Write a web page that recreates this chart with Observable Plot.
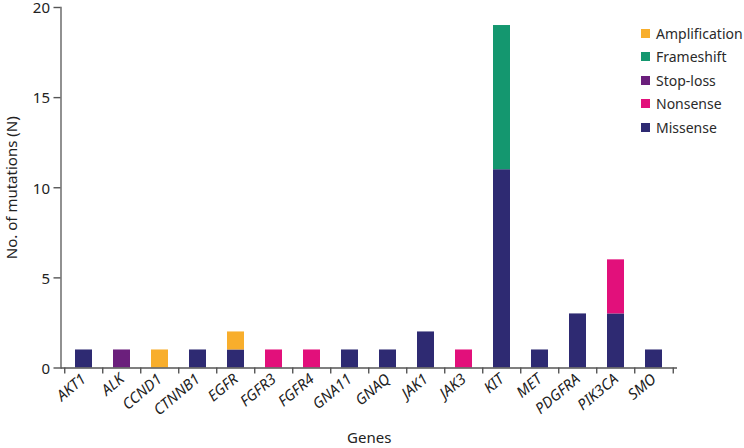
<!DOCTYPE html>
<html>
<head>
<meta charset="utf-8">
<script src="https://cdn.jsdelivr.net/npm/d3@7"></script>
<script src="https://cdn.jsdelivr.net/npm/@observablehq/plot@0.6"></script>
<style>
  body { margin: 0; background: #fff; }
  #wrap { position: relative; width: 744px; height: 448px; font-family: "Noto Sans", sans-serif; }
  g[aria-label="x-axis tick label"] text { font-style: italic; }
  #legend { position: absolute; left: 641px; top: 21.5px; font-size: 14px; color: #2a2a2a; }
  #legend .row { display: flex; align-items: center; height: 23.5px; white-space: nowrap; }
  #legend .sw { width: 9px; height: 9px; margin-right: 6px; flex: none; }
</style>
</head>
<body>
<div id="wrap"></div>
<script>
const genes = ["AKT1","ALK","CCND1","CTNNB1","EGFR","FGFR3","FGFR4","GNA11","GNAQ","JAK1","JAK3","KIT","MET","PDGFRA","PIK3CA","SMO"];
const types = ["Amplification","Frameshift","Stop-loss","Nonsense","Missense"];
const typeColors = ["#f8ae2c","#14976f","#6b1f7c","#e2107b","#2e2a72"];
const missense      = [1,0,0,1,1,0,0,1,1,2,0,11,1,3,3,1];
const nonsense      = [0,0,0,0,0,1,1,0,0,0,1,0,0,0,3,0];
const stopLoss      = [0,1,0,0,0,0,0,0,0,0,0,0,0,0,0,0];
const frameshift    = [0,0,0,0,0,0,0,0,0,0,0,8,0,0,0,0];
const amplification = [0,0,1,0,1,0,0,0,0,0,0,0,0,0,0,0];
const yTicks = [0,5,10,15,20];

const series = {"Missense": missense, "Nonsense": nonsense, "Stop-loss": stopLoss, "Frameshift": frameshift, "Amplification": amplification};
const stackOrder = ["Missense","Nonsense","Stop-loss","Frameshift","Amplification"];
const rows = [];
for (const t of stackOrder) {
  series[t].forEach((v, i) => { if (v > 0) rows.push({gene: genes[i], type: t, n: v}); });
}

const W = 744, H = 448, ML = 60.5, MR = 67, MT = 7, MB = 80.5;
const PAD = 0.55;
const yMax = 20;
// with paddingOuter = paddingInner / 2 the bands exactly tile the range
const step = (W - ML - MR) / genes.length;
const frameH = H - MT - MB;
const tickLenPx = 6;
const tickDepth = -tickLenPx * yMax / frameH; // tick length expressed through the y scale
const axisColor = "#555";
const tickStyle = {y1: () => 0, y2: () => tickDepth, stroke: axisColor, strokeWidth: 1.4};

const chart = Plot.plot({
  width: W, height: H,
  marginLeft: ML, marginRight: MR, marginTop: MT, marginBottom: MB,
  style: {fontFamily: "Noto Sans, sans-serif", fontSize: "14px", color: "#222", background: "#fff"},
  x: {domain: genes, paddingInner: PAD, paddingOuter: PAD / 2, axis: null},
  y: {domain: [0, yMax], axis: null},
  color: {domain: types, range: typeColors},
  marks: [
    Plot.rectY(rows, Plot.stackY({x: "gene", y: "n", fill: "type", order: stackOrder})),
    Plot.ruleY([0], {stroke: axisColor, strokeWidth: 1.3}),
    Plot.frame({anchor: "left", stroke: axisColor, strokeWidth: 1.3}),
    // boundary tick marks between gene bands
    Plot.ruleX(genes, {x: d => d, dx: -step / 2, ...tickStyle}),
    Plot.ruleX([genes[genes.length - 1]], {x: d => d, dx: step / 2, ...tickStyle}),
    Plot.axisY(yTicks, {tickSize: 7, tickFormat: () => "", stroke: axisColor, strokeWidth: 1.4, label: "No. of mutations (N)", labelAnchor: "center", labelArrow: "none", labelOffset: 55, fontSize: 15}),
    Plot.text(yTicks, {y: d => d, text: d => String(d), frameAnchor: "left", textAnchor: "end", dx: -11, dy: 1, fontSize: 15, fill: "#222"}),
    Plot.axisX(genes, {tickSize: 0, tickPadding: 9, tickRotate: -40, fontSize: 15, label: "Genes", labelAnchor: "center", labelArrow: "none", labelOffset: 75})
  ]
});

const wrap = document.getElementById("wrap");
wrap.appendChild(chart);
const legend = document.createElement("div");
legend.id = "legend";
types.forEach((t, i) => {
  const r = document.createElement("div");
  r.className = "row";
  const s = document.createElement("span");
  s.className = "sw";
  s.style.background = typeColors[i];
  const l = document.createElement("span");
  l.textContent = t;
  r.appendChild(s); r.appendChild(l);
  legend.appendChild(r);
});
wrap.appendChild(legend);
</script>
</body>
</html>
